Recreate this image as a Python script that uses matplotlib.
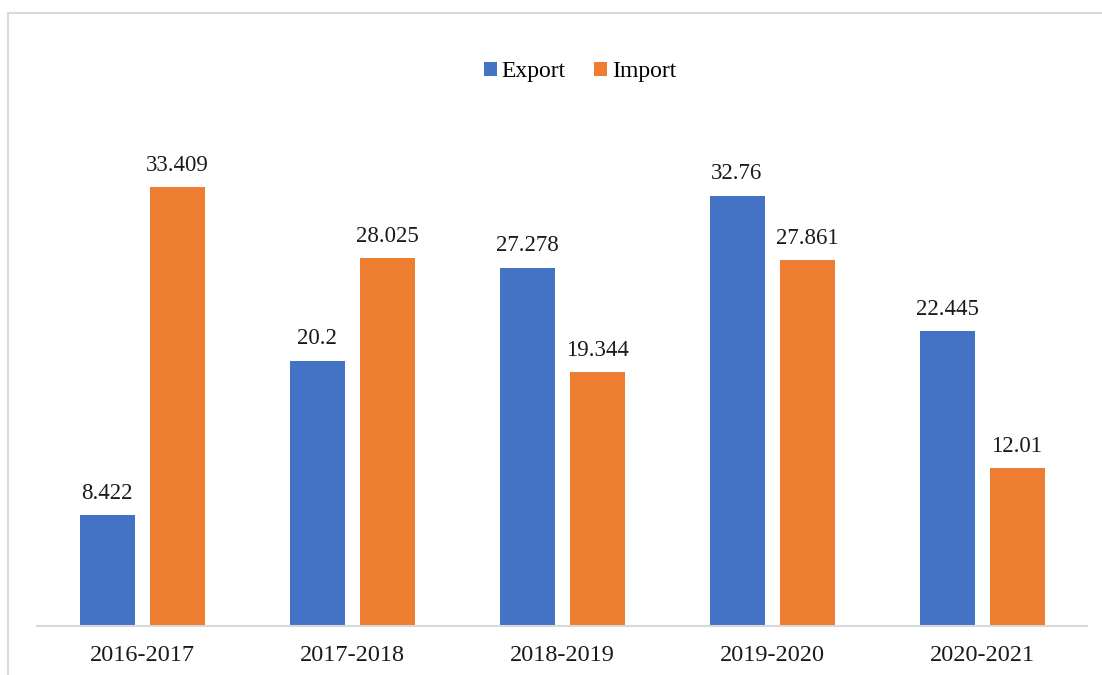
import matplotlib.pyplot as plt
from matplotlib.patches import Rectangle
import numpy as np

# data
years = ['2016-2017', '2017-2018', '2018-2019', '2019-2020', '2020-2021']
export = [8.422, 20.2, 27.278, 32.76, 22.445]
imports = [33.409, 28.025, 19.344, 27.861, 12.01]
export_labels = ['8.422', '20.2', '27.278', '32.76', '22.445']
import_labels = ['33.409', '28.025', '19.344', '27.861', '12.01']

plt.rcParams['font.family'] = ['Liberation Serif', 'DejaVu Serif']

W, H = 1102, 675
fig = plt.figure(figsize=(W / 100, H / 100), dpi=100)

# light grey chart frame (cut off at right/bottom like the reference)
fig.patches.append(Rectangle((8 / W, -0.1), 1.2, 1 - 13 / H + 0.1,
                             transform=fig.transFigure, fill=False,
                             edgecolor='#d9d9d9', linewidth=1.5))

ax = fig.add_axes([37 / W, (H - 626) / H, 1050 / W, 526 / H])

x = np.arange(len(years))
w = 55 / 210
off = 35 / 210
b1 = ax.bar(x - off, export, w, color='#4472c4', label='Export')
b2 = ax.bar(x + off, imports, w, color='#ed7d31', label='Import')

for bars, labs in [(b1, export_labels), (b2, import_labels)]:
    for b, t in zip(bars, labs):
        ax.annotate(t, (b.get_x() + b.get_width() / 2, b.get_height()),
                    xytext=(0, 8), textcoords='offset points',
                    ha='center', va='bottom', fontsize=16.5, color='#1a1a1a')

ax.set_xlim(-0.5, 4.5)
ax.set_ylim(0, 40.03)
ax.set_xticks(x)
ax.set_xticklabels(years, fontsize=17.5, color='#1a1a1a')
ax.tick_params(axis='x', length=0, pad=14)
ax.set_yticks([])
for s in ['top', 'right', 'left']:
    ax.spines[s].set_visible(False)
ax.spines['bottom'].set_color('#d9d9d9')
ax.spines['bottom'].set_linewidth(1.5)

fig.legend(loc='center', bbox_to_anchor=(580 / W, 1 - 72 / H), ncol=2,
           frameon=False, fontsize=17, handlelength=0.55, handleheight=0.55,
           handletextpad=0.2, columnspacing=1.2)

fig.savefig('out.png', dpi=100)
plt.close()
